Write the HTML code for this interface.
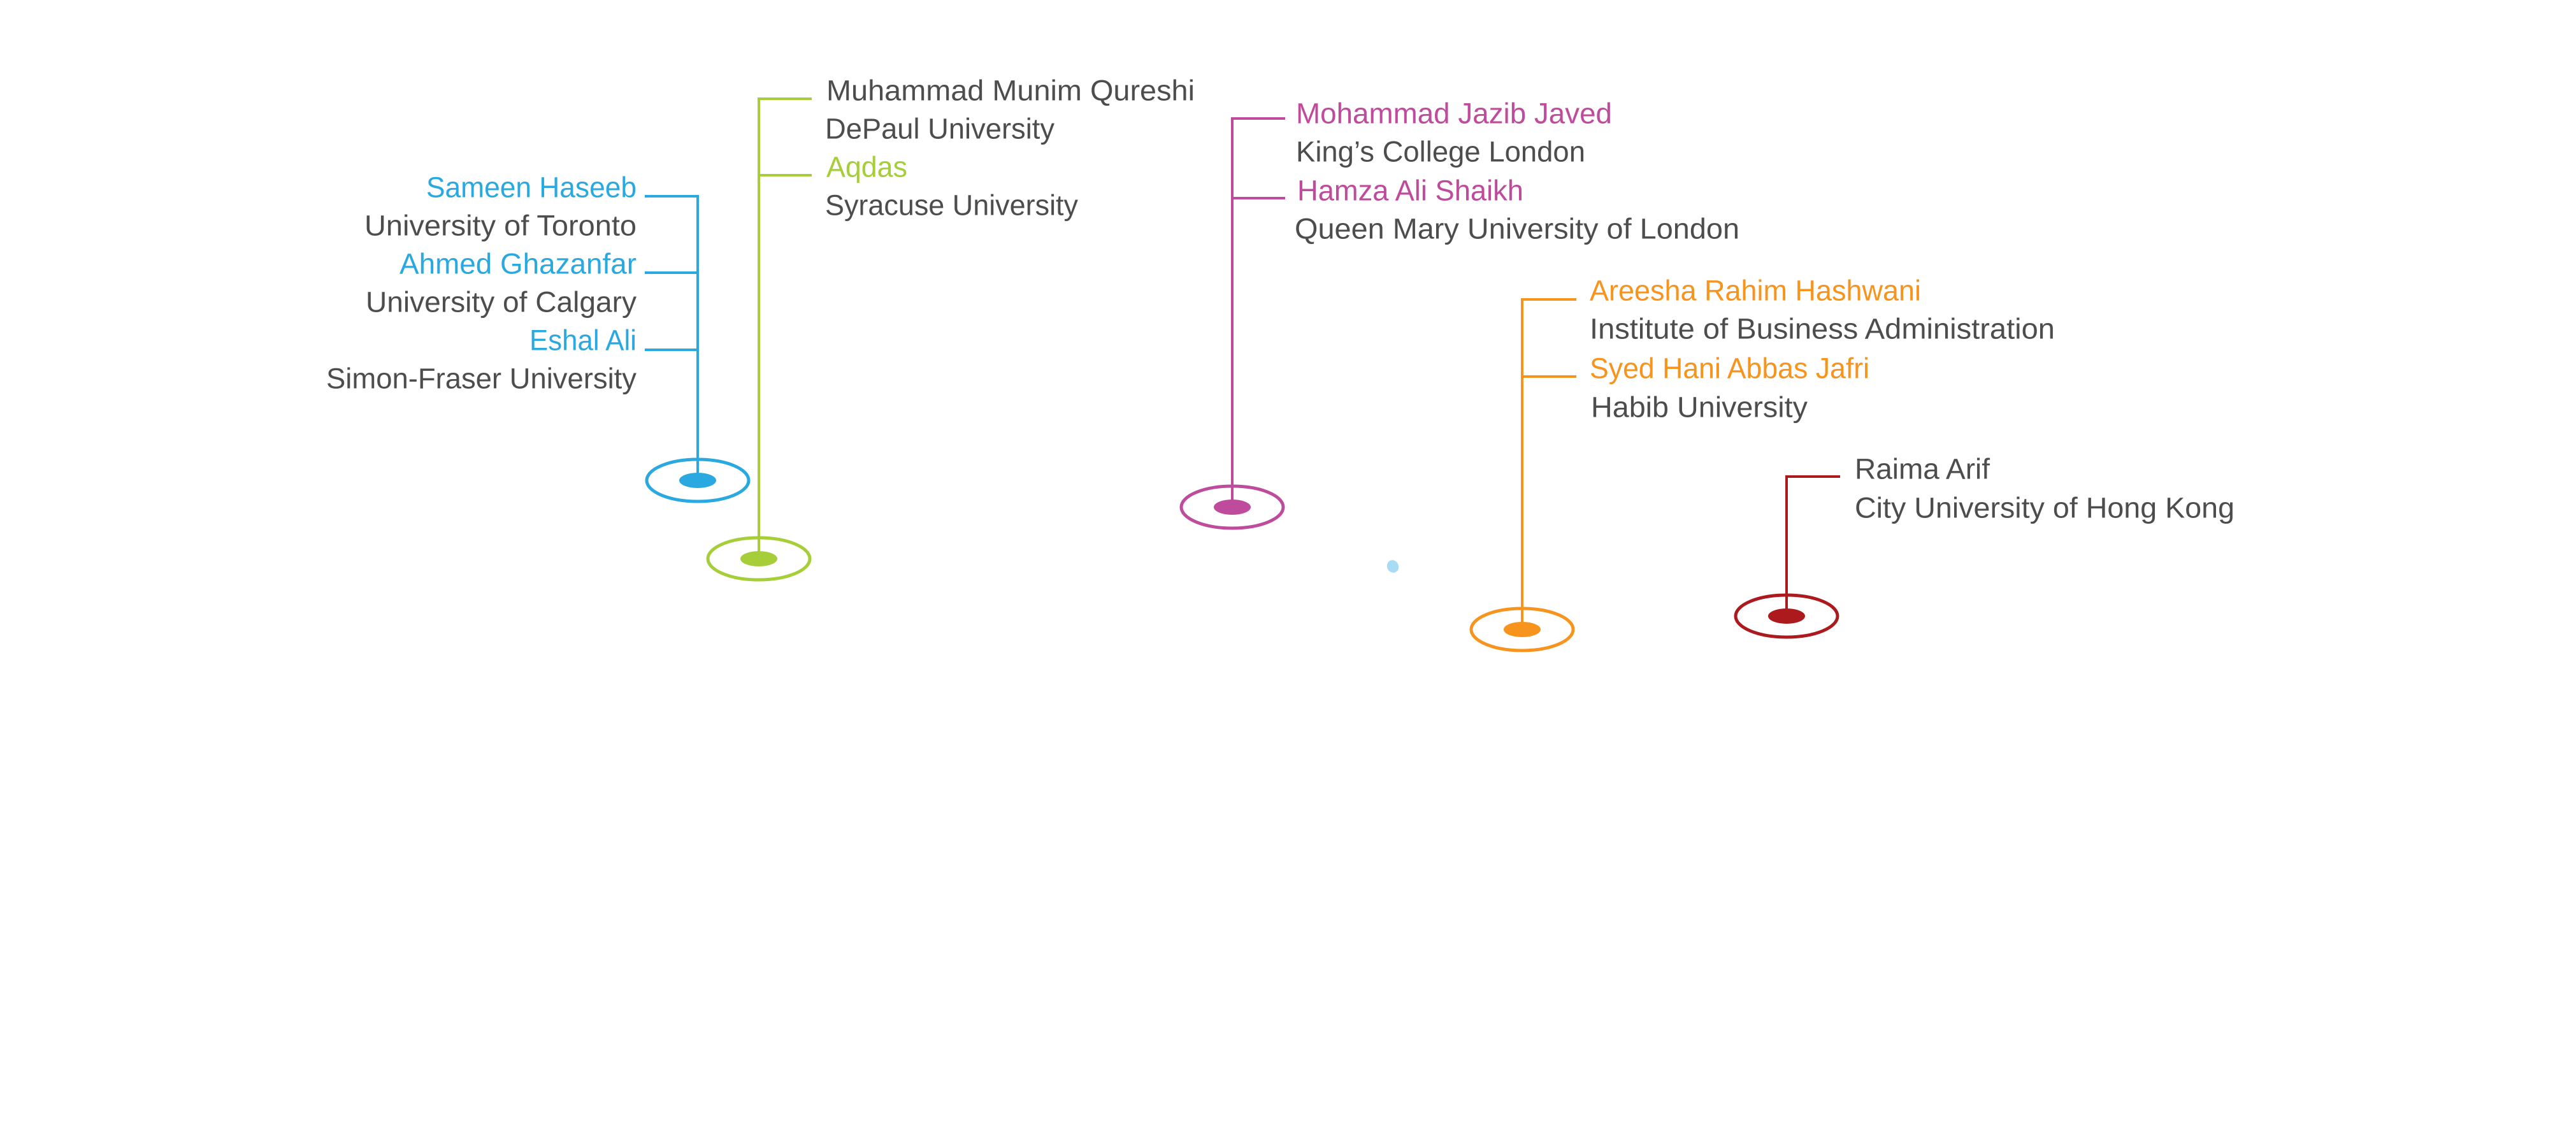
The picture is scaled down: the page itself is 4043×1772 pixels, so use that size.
<!DOCTYPE html>
<html><head><meta charset="utf-8"><style>
html,body{margin:0;padding:0;background:#fff;}
svg{display:block;}
text{font-family:"Liberation Sans",sans-serif;font-size:45px;dominant-baseline:central;}
.g{fill:#4d4d4d;}
</style></head><body>
<svg width="4043" height="1772" viewBox="0 0 4043 1772" xmlns="http://www.w3.org/2000/svg">
<rect width="4043" height="1772" fill="#fff"/>
<!-- Blue -->
<g stroke="#29a9e0" stroke-width="4" fill="none">
<polyline points="1012,308 1095,308 1095,754"/>
<line x1="1012" y1="428" x2="1095" y2="428"/>
<line x1="1012" y1="549" x2="1095" y2="549"/>
<ellipse cx="1095" cy="754" rx="80" ry="33" stroke-width="5"/>
</g>
<ellipse cx="1095" cy="754" rx="29" ry="12" fill="#29a9e0"/>
<g text-anchor="end">
<text x="999" y="294" fill="#29a9e0" textLength="330" lengthAdjust="spacingAndGlyphs">Sameen Haseeb</text>
<text x="999" y="354" class="g" textLength="427" lengthAdjust="spacingAndGlyphs">University of Toronto</text>
<text x="999" y="414" fill="#29a9e0" textLength="372" lengthAdjust="spacingAndGlyphs">Ahmed Ghazanfar</text>
<text x="999" y="474" class="g" textLength="425" lengthAdjust="spacingAndGlyphs">University of Calgary</text>
<text x="999" y="534" fill="#29a9e0" textLength="168" lengthAdjust="spacingAndGlyphs">Eshal Ali</text>
<text x="999" y="594" class="g" textLength="487" lengthAdjust="spacingAndGlyphs">Simon-Fraser University</text>
</g>
<!-- Green -->
<g stroke="#a6ce39" stroke-width="4" fill="none">
<polyline points="1274,155 1191,155 1191,877"/>
<line x1="1191" y1="275" x2="1274" y2="275"/>
<ellipse cx="1191" cy="877" rx="80" ry="33" stroke-width="5"/>
</g>
<ellipse cx="1191" cy="877" rx="29" ry="12" fill="#a6ce39"/>
<text x="1297" y="142" class="g" textLength="578" lengthAdjust="spacingAndGlyphs">Muhammad Munim Qureshi</text>
<text x="1295" y="202" class="g" textLength="360" lengthAdjust="spacingAndGlyphs">DePaul University</text>
<text x="1297" y="262" fill="#a6ce39" textLength="127" lengthAdjust="spacingAndGlyphs">Aqdas</text>
<text x="1295" y="322" class="g" textLength="397" lengthAdjust="spacingAndGlyphs">Syracuse University</text>
<!-- Magenta -->
<g stroke="#be4b9b" stroke-width="4" fill="none">
<polyline points="2017,186 1934,186 1934,796"/>
<line x1="1934" y1="311" x2="2017" y2="311"/>
<ellipse cx="1934" cy="796" rx="80" ry="33" stroke-width="5"/>
</g>
<ellipse cx="1934" cy="796" rx="29" ry="12" fill="#be4b9b"/>
<text x="2034" y="178" fill="#be4b9b" textLength="496" lengthAdjust="spacingAndGlyphs">Mohammad Jazib Javed</text>
<text x="2034" y="238" class="g" textLength="454" lengthAdjust="spacingAndGlyphs">King’s College London</text>
<text x="2036" y="299" fill="#be4b9b" textLength="355" lengthAdjust="spacingAndGlyphs">Hamza Ali Shaikh</text>
<text x="2032" y="359" class="g" textLength="698" lengthAdjust="spacingAndGlyphs">Queen Mary University of London</text>
<!-- Orange -->
<g stroke="#f7941d" stroke-width="4" fill="none">
<polyline points="2474,470 2389,470 2389,988"/>
<line x1="2389" y1="591" x2="2474" y2="591"/>
<ellipse cx="2389" cy="988" rx="80" ry="33" stroke-width="5"/>
</g>
<ellipse cx="2389" cy="988" rx="29" ry="12" fill="#f7941d"/>
<text x="2495" y="456" fill="#f7941d" textLength="520" lengthAdjust="spacingAndGlyphs">Areesha Rahim Hashwani</text>
<text x="2495" y="516" class="g" textLength="730" lengthAdjust="spacingAndGlyphs">Institute of Business Administration</text>
<text x="2495" y="578" fill="#f7941d" textLength="439" lengthAdjust="spacingAndGlyphs">Syed Hani Abbas Jafri</text>
<text x="2497" y="639" class="g" textLength="340" lengthAdjust="spacingAndGlyphs">Habib University</text>
<!-- Red -->
<g stroke="#ac1a1e" stroke-width="4" fill="none">
<polyline points="2888,748 2804,748 2804,967"/>
<ellipse cx="2804" cy="967" rx="80" ry="33" stroke-width="5"/>
</g>
<ellipse cx="2804" cy="967" rx="29" ry="12" fill="#ac1a1e"/>
<text x="2911" y="736" class="g" textLength="212" lengthAdjust="spacingAndGlyphs">Raima Arif</text>
<text x="2911" y="797" class="g" textLength="596" lengthAdjust="spacingAndGlyphs">City University of Hong Kong</text>
<!-- small blob -->
<ellipse cx="2186" cy="889" rx="9" ry="10" fill="#a8dcf5" transform="rotate(-25 2186 889)"/>
</svg>
</body></html>
